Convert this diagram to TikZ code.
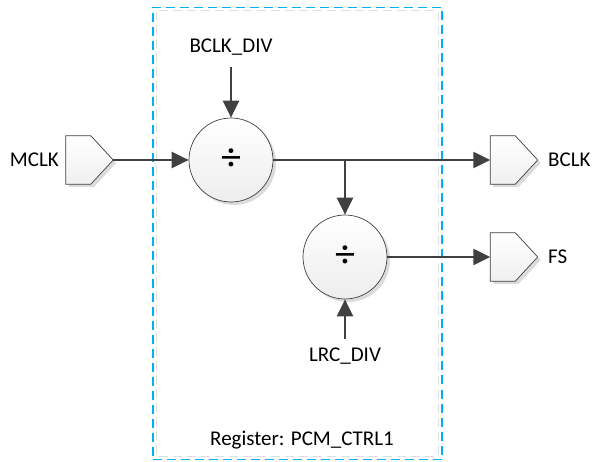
\documentclass[tikz,border=0pt]{standalone}
\usepackage{fontspec}
\setmainfont{Carlito}
\usetikzlibrary{arrows.meta,shadows}
\definecolor{linegray}{HTML}{404040}
\definecolor{regblue}{HTML}{00B0F0}
\tikzset{
  lbl/.style={font=\fontsize{21}{25}\selectfont, text=black, inner sep=0pt},
  portbox/.style={rectangle, minimum width=47pt, minimum height=48pt, inner sep=0pt},
  portdraw/.style={draw=linegray, line width=0.7pt, top color=white, bottom color=black!6,
    drop shadow={shadow xshift=3pt, shadow yshift=-3pt, fill=black!14, opacity=1}},
  divc/.style={circle, draw=linegray, line width=0.7pt, minimum size=84pt, inner sep=0pt,
    top color=white, bottom color=black!7,
    drop shadow={shadow xshift=3pt, shadow yshift=-3pt, fill=black!14, opacity=1},
    font=\fontsize{40}{40}\selectfont},
  arr/.style={draw=linegray, line width=2.4pt, -{Triangle[length=17pt,width=16pt]}},
}
\newcommand{\portshape}[1]{%
  \path[portdraw] (#1.north west) -- ([xshift=25pt]#1.north west) -- (#1.east)
    -- ([xshift=25pt]#1.south west) -- (#1.south west) -- cycle;}
\begin{document}
\begin{tikzpicture}[x=1pt,y=-1pt]
\useasboundingbox (0,0) rectangle (592,462);
% register box
\draw[black!13, line width=1pt, dash pattern=on 9pt off 5pt] (156,11) rectangle (438,456);
\node[draw=regblue, line width=1.2pt, dash pattern=on 9pt off 5pt, minimum width=289pt, minimum height=452pt, inner sep=0pt] (reg) at (297.5,233.5) {};
\node[lbl] (reglbl) at (302,440) {Register: PCM\_CTRL1};
% ports
\node[portbox] (mclk) at (89.5,160) {};
\node[portbox] (bclk) at (514,160) {};
\node[portbox] (fs) at (514,257) {};
\portshape{mclk}
\portshape{bclk}
\portshape{fs}
\node[lbl, anchor=east] (mclklbl) at (59,160) {MCLK};
\node[lbl, anchor=west] (bclklbl) at (548,160) {BCLK};
\node[lbl, anchor=west] (fslbl) at (548,257) {FS};
% dividers
\node[divc] (c1) at (231,160) {÷};
\node[divc] (c2) at (345,257) {÷};
\node[lbl] (bclkdiv) at (231,47) {BCLK\_DIV};
\node[lbl] (lrcdiv) at (345,356) {LRC\_DIV};
\coordinate (br) at (345,160);
% connectors
\draw[arr] (mclk.east) -- (c1.west);
\draw[arr] (c1.east) -- (bclk.west);
\draw[arr] (br) -- (c2.north);
\draw[arr] (c2.east) -- (fs.west);
\draw[arr] ([yshift=-12pt]bclkdiv.south) -- (c1.north);
\draw[arr] ([yshift=9pt]lrcdiv.north) -- (c2.south);
\end{tikzpicture}
\end{document}
